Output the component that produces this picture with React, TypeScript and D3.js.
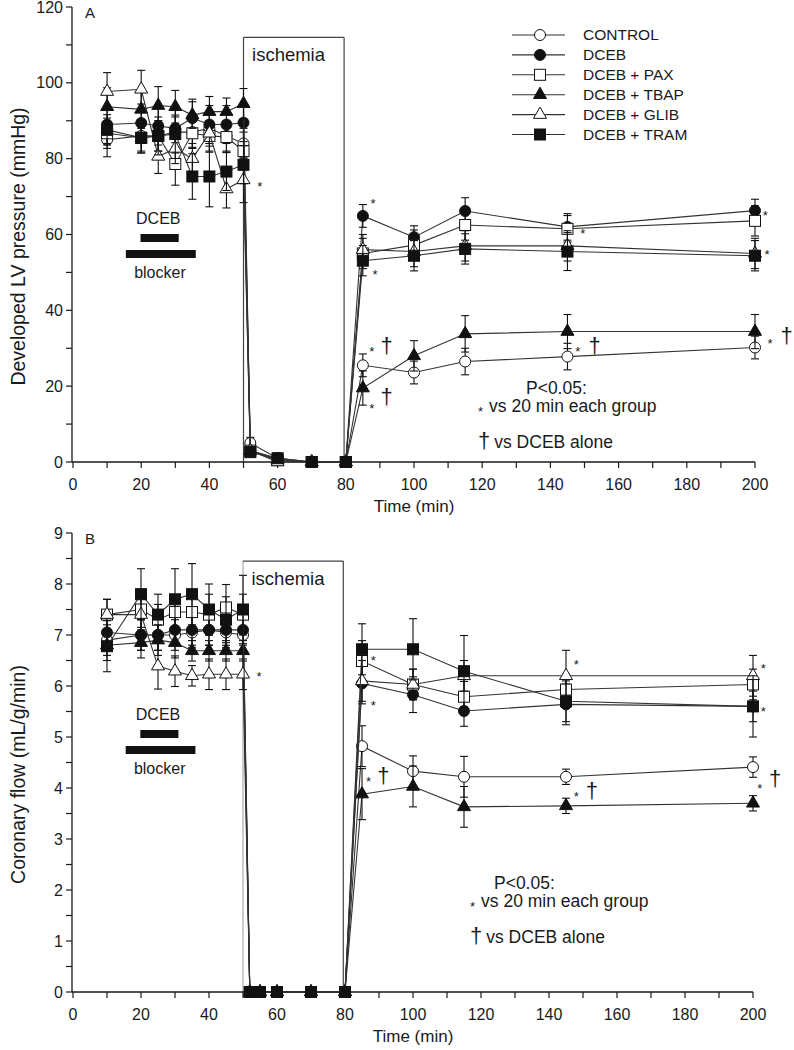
import React from 'react';
import * as d3 from 'd3';

// ---------- data ----------
const seriesNames = ['CONTROL', 'DCEB', 'DCEB + PAX', 'DCEB + TBAP', 'DCEB + GLIB', 'DCEB + TRAM'];
const markerShapes = ['circle', 'circle', 'square', 'triangle', 'triangle', 'square'];
const markerFilled = [false, true, false, true, false, true];

// Panel A: developed LV pressure (mmHg)
const timesA = [10, 20, 25, 30, 35, 40, 45, 50, 52, 60, 70, 80, 85, 100, 115, 145, 200];
const lvpControl = [85, 86, 86, 87, 87, 88, 86, 84, 5, 1, 0, 0, 25.5, 23.6, 26.5, 27.8, 30.2];
const lvpControlSem = [4.5, 4, 4, 4, 4, 4, 4, 4, 1.5, 0.5, 0, 0, 3, 3, 3.5, 3.5, 3];
const lvpDceb = [89, 89.4, 88.6, 88, 90.7, 89, 89, 89.5, 3, 1, 0, 0, 64.9, 59.3, 66.2, 62, 66.3];
const lvpDcebSem = [5, 5, 5, 5, 5, 5, 5, 5, 1, 0.5, 0, 0, 3, 3, 3.5, 3.5, 3];
const lvpPax = [86.7, 85.5, 86, 78.6, 86.7, 86, 85.7, 82, 3, 0.5, 0, 0, 55, 57.2, 62.5, 61.5, 63.6];
const lvpPaxSem = [4, 4, 4, 5.6, 4, 4, 4, 5, 1, 0.5, 0, 0, 4, 4, 4, 3.5, 4];
const lvpTbap = [93.7, 93, 94, 93.7, 91.5, 92.4, 92.4, 94.5, 3, 0.5, 0, 0, 19.5, 28, 33.8, 34.4, 34.4];
const lvpTbapSem = [5, 5, 5, 4.3, 3.5, 4, 3.6, 4, 1, 0.5, 0, 0, 4.5, 4, 4.8, 4.5, 4.5];
const lvpGlib = [97.7, 98.3, 80.6, 82.7, 80, 86.7, 72, 74.4, 3, 0, 0, 0, 56, 55.5, 57, 57, 55];
const lvpGlibSem = [5, 5, 4.5, 4, 4, 5, 5, 6, 1, 0.5, 0, 0, 4, 4, 4, 4, 4];
const lvpTram = [87.6, 85.5, 86, 86.5, 75.3, 75.3, 76.6, 78.4, 2.6, 1, 0, 0, 53.1, 54.4, 56.2, 55.5, 54.4];
const lvpTramSem = [4, 4, 5, 5, 6, 8, 5, 5, 1, 0.5, 0, 0, 4, 4, 4, 5, 4];

// Panel B: coronary flow (mL/g/min)
const timesB = [10, 20, 25, 30, 35, 40, 45, 50, 52, 55, 60, 70, 80, 85, 100, 115, 145, 200];
const cfControl = [6.9, 7.0, 7.0, 7.0, 7.05, 7.1, 7.05, 7.0, 0, 0, 0, 0, 0, 4.82, 4.33, 4.22, 4.22, 4.41];
const cfControlSem = [0.3, 0.3, 0.3, 0.3, 0.3, 0.3, 0.3, 0.3, 0, 0, 0, 0, 0, 0.4, 0.3, 0.4, 0.15, 0.2];
const cfDceb = [7.05, 7.0, 7.0, 7.1, 7.1, 7.1, 7.1, 7.1, 0, 0, 0, 0, 0, 6.05, 5.83, 5.51, 5.64, 5.6];
const cfDcebSem = [0.3, 0.3, 0.3, 0.3, 0.3, 0.3, 0.3, 0.3, 0, 0, 0, 0, 0, 0.4, 0.35, 0.3, 0.4, 0.3];
const cfPax = [7.4, 7.5, 7.3, 7.45, 7.45, 7.4, 7.54, 7.4, 0, 0, 0, 0, 0, 6.49, 6.03, 5.79, 5.93, 6.03];
const cfPaxSem = [0.3, 0.4, 0.3, 0.3, 0.4, 0.4, 0.45, 0.4, 0, 0, 0, 0, 0, 0.4, 0.3, 0.3, 0.3, 0.3];
const cfTbap = [6.8, 6.85, 6.9, 6.85, 6.69, 6.69, 6.69, 6.69, 0, 0, 0, 0, 0, 3.88, 4.03, 3.63, 3.65, 3.7];
const cfTbapSem = [0.3, 0.3, 0.3, 0.3, 0.2, 0.2, 0.2, 0.2, 0, 0, 0, 0, 0, 0.5, 0.4, 0.4, 0.15, 0.15];
const cfGlib = [7.4, 7.4, 6.39, 6.29, 6.2, 6.23, 6.23, 6.23, 0, 0, 0, 0, 0, 6.1, 6.03, 6.2, 6.2, 6.2];
const cfGlibSem = [0.3, 0.35, 0.45, 0.3, 0.2, 0.3, 0.3, 0.3, 0, 0, 0, 0, 0, 0.4, 0.3, 0.3, 0.5, 0.4];
const cfTram = [6.78, 7.8, 7.4, 7.7, 7.8, 7.5, 7.3, 7.5, 0, 0, 0, 0, 0, 6.72, 6.72, 6.29, 5.7, 5.6];
const cfTramSem = [0.5, 0.5, 0.4, 0.6, 0.6, 0.5, 0.45, 0.67, 0, 0, 0, 0, 0, 0.5, 0.6, 0.7, 0.4, 0.6];

const xTickLabels = [0, 20, 40, 60, 80, 100, 120, 140, 160, 180, 200];
const yTickLabelsA = [0, 20, 40, 60, 80, 100, 120];
const yTickLabelsB = [0, 1, 2, 3, 4, 5, 6, 7, 8, 9];

// significance marks: [time, value, symbol]
const marksA: [number, number, string][] = [
  [54.8, 73.6, '*'], [88, 69, '*'], [88.6, 50.2, '*'], [149.5, 61.2, '*'],
  [203, 65.8, '*'], [203.5, 55.7, '*'],
  [87.6, 30, '*'], [92, 30.9, '†'], [87.6, 15, '*'], [92, 17.2, '†'],
  [148, 30, '*'], [153, 30.9, '†'], [204.4, 32.2, '*'], [209.3, 33.5, '†'],
];
const marksB: [number, number, string][] = [
  [54.7, 6.26, '*'], [88.3, 6.57, '*'], [88.3, 5.69, '*'], [148, 6.48, '*'],
  [203, 6.41, '*'], [203, 5.56, '*'],
  [86.9, 4.19, '*'], [91.3, 4.25, '†'], [148, 3.9, '*'], [152.6, 3.96, '†'],
  [202, 4.06, '*'], [206.5, 4.19, '†'],
];

const FONT = 'Liberation Sans, Arial, Helvetica, sans-serif';
const INK = '#1a1a1a';

type PanelCfg = {
  label: string;
  yTitle: string;
  times: number[];
  values: number[][];
  sems: number[][];
  yDomain: [number, number];
  yRange: [number, number];
  xRange: [number, number];
  yMajor: number[];
  yMinorStep: number;
  boxTop: number;
  boxLeftColor: string;
  marks: [number, number, string][];
  showLegend: boolean;
  dcebLabelY: number;
  pTextY: number;
  pTextX: number;
  pLinesX: number;
};

function Marker({ shape, filled, x, y }: { shape: string; filled: boolean; x: number; y: number }) {
  const fill = filled ? '#111' : '#fff';
  const stroke = '#111';
  if (shape === 'circle') return <circle cx={x} cy={y} r={5.5} fill={fill} stroke={stroke} strokeWidth={1} />;
  if (shape === 'square') return <rect x={x - 5.5} y={y - 5.5} width={11} height={11} fill={fill} stroke={stroke} strokeWidth={1} />;
  const s = 13;
  const h = (s * Math.sqrt(3)) / 2;
  const pts = `${x},${y - (h * 2) / 3} ${x - s / 2},${y + h / 3} ${x + s / 2},${y + h / 3}`;
  return <polygon points={pts} fill={fill} stroke={stroke} strokeWidth={1} />;
}

function Panel({ cfg }: { cfg: PanelCfg }) {
  const x = d3.scaleLinear().domain([0, 200]).range(cfg.xRange);
  const y = d3.scaleLinear().domain(cfg.yDomain).range(cfg.yRange);
  const line = d3.line<[number, number]>().x((d) => x(d[0])).y((d) => y(d[1]));
  const xMinor = d3.range(0, 201, 10);
  const yMinor = d3.range(cfg.yDomain[0], cfg.yDomain[1] + 1e-9, cfg.yMinorStep);
  const axX = cfg.xRange[0] - 1;
  const axY = y(cfg.yDomain[0]);
  const x0 = cfg.xRange[0];
  return (
    <g fontFamily={FONT} fill={INK}>
      {/* ischemia box */}
      <line x1={x(50)} x2={x(50)} y1={y(cfg.boxTop)} y2={axY} stroke={cfg.boxLeftColor} strokeWidth={1.2} />
      <line x1={x(79.5)} x2={x(79.5)} y1={y(cfg.boxTop)} y2={axY} stroke="#444" strokeWidth={1.2} />
      <line x1={x(50)} x2={x(79.5)} y1={y(cfg.boxTop)} y2={y(cfg.boxTop)} stroke="#444" strokeWidth={1.2} />
      <text x={x(52.5)} y={y(cfg.boxTop) + 24} fontSize={18.5}>ischemia</text>

      {/* axes */}
      <line x1={axX} x2={axX} y1={y(cfg.yDomain[1])} y2={axY} stroke={INK} strokeWidth={1.3} />
      <line x1={axX} x2={x(200)} y1={axY} y2={axY} stroke={INK} strokeWidth={1.3} />
      {yMinor.map((v) => (
        <line key={'ym' + v} x1={axX - 6} x2={axX} y1={y(v)} y2={y(v)} stroke={INK} strokeWidth={1.2} />
      ))}
      {cfg.yMajor.map((v) => (
        <text key={'yl' + v} x={axX - 9} y={y(v)} dy="0.35em" textAnchor="end" fontSize={16}>{v}</text>
      ))}
      {xMinor.map((v) => (
        <line key={'xm' + v} x1={x(v)} x2={x(v)} y1={axY} y2={axY + 6} stroke={INK} strokeWidth={1.2} />
      ))}
      {xTickLabels.map((v) => (
        <text key={'xl' + v} x={x(v)} y={axY + 22} dy="0.35em" textAnchor="middle" fontSize={16}>{v}</text>
      ))}
      <text x={x(100)} y={axY + 44} dy="0.35em" textAnchor="middle" fontSize={17}>Time (min)</text>
      <text transform={`translate(18,${(y(cfg.yDomain[1]) + axY) / 2 + 12}) rotate(-90)`} textAnchor="middle" dy="0.35em" fontSize={19.5}>
        {cfg.yTitle}
      </text>
      <text x={x0 + 12} y={y(cfg.yDomain[1]) + 6} dy="0.35em" fontSize={15}>{cfg.label}</text>

      {/* DCEB / blocker bars */}
      <text x={x(25)} y={cfg.dcebLabelY} textAnchor="middle" fontSize={16}>DCEB</text>
      <rect x={x(19.8)} y={cfg.dcebLabelY + 10} width={x(31) - x(19.8)} height={8} fill="#111" />
      <rect x={x(15.5)} y={cfg.dcebLabelY + 26} width={x(36) - x(15.5)} height={8} fill="#111" />
      <text x={x(25.5)} y={cfg.dcebLabelY + 54} textAnchor="middle" fontSize={16}>blocker</text>

      {/* series */}
      {cfg.values.map((vals, si) => {
        const pts = cfg.times.map((t, i) => [t, vals[i]] as [number, number]);
        const sem = cfg.sems[si];
        return (
          <g key={'s' + si}>
            <path d={line(pts) || ''} fill="none" stroke="#333" strokeWidth={1.1} />
            {pts.map(([t, v], i) =>
              sem[i] > 0 ? (
                <g key={'e' + i} stroke="#111" strokeWidth={1.1}>
                  <line x1={x(t)} x2={x(t)} y1={y(Math.max(0, v - sem[i]))} y2={y(v + sem[i])} />
                  <line x1={x(t) - 4} x2={x(t) + 4} y1={y(v + sem[i])} y2={y(v + sem[i])} />
                  {v - sem[i] > 0 ? <line x1={x(t) - 4} x2={x(t) + 4} y1={y(v - sem[i])} y2={y(v - sem[i])} /> : null}
                </g>
              ) : null
            )}
            {pts.map(([t, v], i) => (
              <Marker key={'m' + i} shape={markerShapes[si]} filled={markerFilled[si]} x={x(t)} y={y(v)} />
            ))}
          </g>
        );
      })}

      {/* significance marks */}
      {cfg.marks.map(([t, v, s], i) => (
        <text key={'k' + i} x={x(t)} y={y(v)} dy={s === '*' ? '0.6em' : '0.35em'} textAnchor="middle" fontSize={s === '*' ? 13 : 22}>{s}</text>
      ))}

      {/* P text */}
      <text x={cfg.pTextX} y={cfg.pTextY - 2} dy="0.35em" fontSize={17.5}>P&lt;0.05:</text>
      <text x={cfg.pLinesX} y={cfg.pTextY + 23} dy="0.35em" fontSize={17.5}>
        <tspan fontSize={13} dy="0.2em">*</tspan>
        <tspan dy="-0.2em" dx={6}>vs 20 min each group</tspan>
      </text>
      <text x={cfg.pLinesX} y={cfg.pTextY + 52} dy="0.35em" fontSize={17.5}>
        <tspan fontSize={22}>†</tspan>
        <tspan dx={4}>vs DCEB alone</tspan>
      </text>

      {/* legend */}
      {cfg.showLegend &&
        seriesNames.map((n, i) => {
          const ly = 35 + i * 19.9;
          return (
            <g key={'lg' + i}>
              <line x1={512} x2={565} y1={ly} y2={ly} stroke="#333" strokeWidth={1.1} />
              <Marker shape={markerShapes[i]} filled={markerFilled[i]} x={540} y={ly} />
              <text x={583} y={ly} dy="0.35em" fontSize={15.5}>{n}</text>
            </g>
          );
        })}
    </g>
  );
}

export default function App() {
  const panelA: PanelCfg = {
    label: 'A',
    yTitle: 'Developed LV pressure (mmHg)',
    times: timesA,
    values: [lvpControl, lvpDceb, lvpPax, lvpTbap, lvpGlib, lvpTram],
    sems: [lvpControlSem, lvpDcebSem, lvpPaxSem, lvpTbapSem, lvpGlibSem, lvpTramSem],
    yDomain: [0, 120],
    yRange: [462, 7],
    xRange: [73, 755],
    yMajor: yTickLabelsA,
    yMinorStep: 10,
    boxTop: 112,
    boxLeftColor: '#444',
    marks: marksA,
    showLegend: true,
    dcebLabelY: 224,
    pTextY: 390,
    pTextX: 526,
    pLinesX: 478,
  };
  const panelB: PanelCfg = {
    label: 'B',
    yTitle: 'Coronary flow (mL/g/min)',
    times: timesB,
    values: [cfControl, cfDceb, cfPax, cfTbap, cfGlib, cfTram],
    sems: [cfControlSem, cfDcebSem, cfPaxSem, cfTbapSem, cfGlibSem, cfTramSem],
    yDomain: [0, 9],
    yRange: [992, 533],
    xRange: [73, 753],
    yMajor: yTickLabelsB,
    yMinorStep: 0.5,
    boxTop: 8.45,
    boxLeftColor: '#aaa',
    marks: marksB,
    showLegend: false,
    dcebLabelY: 720,
    pTextY: 885,
    pTextX: 494,
    pLinesX: 470,
  };
  return (
    <svg width={794} height={1050} style={{ position: 'absolute', left: 0, top: 0, background: '#fff' }}>
      <rect width={794} height={1050} fill="#fff" />
      <Panel cfg={panelA} />
      <Panel cfg={panelB} />
    </svg>
  );
}
